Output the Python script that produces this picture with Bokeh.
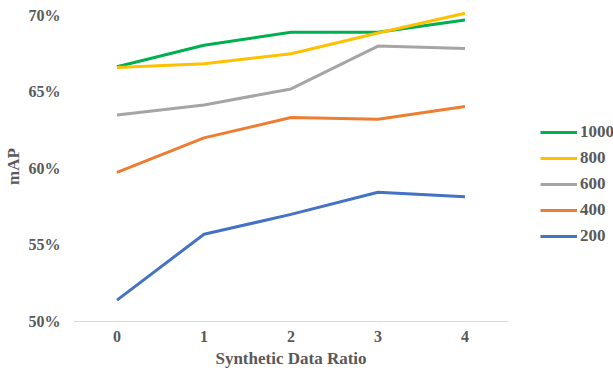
from bokeh.plotting import figure
from bokeh.models import FactorRange, Range1d, Legend, LegendItem, NumeralTickFormatter, FixedTicker
from bokeh.embed import file_html
from bokeh.resources import INLINE

ratios = ["0", "1", "2", "3", "4"]
series_names = ["1000", "800", "600", "400", "200"]
v1000 = [0.6665, 0.6805, 0.6890, 0.6890, 0.6970]
v800 = [0.6660, 0.6685, 0.6750, 0.6885, 0.7015]
v600 = [0.6350, 0.6415, 0.6520, 0.6800, 0.6785]
v400 = [0.5975, 0.6200, 0.6333, 0.6322, 0.6405]
v200 = [0.5140, 0.5570, 0.5700, 0.5845, 0.5815]
colors = ["#00B050", "#FFC000", "#A5A5A5", "#ED7D31", "#4472C4"]
y_ticks = [0.50, 0.55, 0.60, 0.65, 0.70]

p = figure(frame_width=435, frame_height=310, x_range=FactorRange(*ratios), y_range=Range1d(0.50, 0.7026),
           output_backend="svg", toolbar_location=None,
           min_border_left=73, min_border_top=11, min_border_bottom=52, min_border_right=0)
p.outline_line_color = None
p.xgrid.grid_line_color = None
p.ygrid.grid_line_color = None

font = "Liberation Serif"
grey = "#595959"

renderers = []
for name, vals, c in zip(series_names, [v1000, v800, v600, v400, v200], colors):
    r = p.line(ratios, vals, line_color=c, line_width=3)
    renderers.append((name, r))

p.yaxis.ticker = FixedTicker(ticks=y_ticks)
p.yaxis.formatter = NumeralTickFormatter(format="0%")
p.yaxis.axis_line_color = None
p.yaxis.major_tick_line_color = None
p.yaxis.minor_tick_line_color = None
p.yaxis.major_tick_out = 0
p.yaxis.major_tick_in = 0
p.yaxis.minor_tick_out = 0
p.yaxis.major_label_text_font = font
p.yaxis.major_label_text_font_style = "bold"
p.yaxis.major_label_text_font_size = "16px"
p.yaxis.major_label_text_color = grey
p.yaxis.major_label_standoff = 13
p.yaxis.axis_label = "mAP"
p.yaxis.axis_label_text_font = font
p.yaxis.axis_label_text_font_style = "bold"
p.yaxis.axis_label_text_font_size = "17px"
p.yaxis.axis_label_text_color = grey
p.yaxis.axis_label_standoff = 3

p.xaxis.axis_line_color = "#D9D9D9"
p.xaxis.axis_line_width = 1
p.xaxis.major_tick_line_color = None
p.xaxis.minor_tick_line_color = None
p.xaxis.major_tick_out = 0
p.xaxis.major_tick_in = 0
p.xaxis.major_label_text_font = font
p.xaxis.major_label_text_font_style = "bold"
p.xaxis.major_label_text_font_size = "16px"
p.xaxis.major_label_text_color = grey
p.xaxis.major_label_standoff = 9
p.xaxis.axis_label = "Synthetic Data Ratio"
p.xaxis.axis_label_text_font = font
p.xaxis.axis_label_text_font_style = "bold"
p.xaxis.axis_label_text_font_size = "17px"
p.xaxis.axis_label_text_color = grey
p.xaxis.axis_label_standoff = 4

legend = Legend(items=[LegendItem(label=n, renderers=[r]) for n, r in renderers],
                location=(32, 75), border_line_color=None, background_fill_alpha=0,
                glyph_width=37, glyph_height=20, spacing=6, label_standoff=3,
                label_text_font=font, label_text_font_style="bold",
                label_text_font_size="17px", label_text_color=grey,
                padding=0, margin=0)
p.add_layout(legend, "right")

open("out.html", "w").write(file_html(p, INLINE))
